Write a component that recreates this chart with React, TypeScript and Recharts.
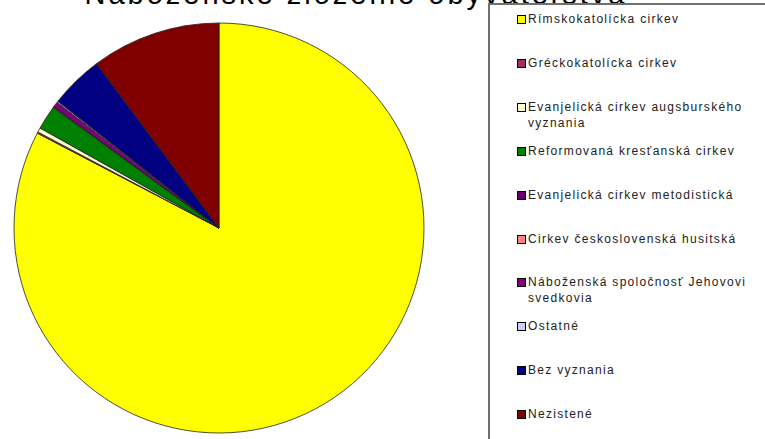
import { PieChart, Pie, Cell } from 'recharts';

const religions = [
  'Rímskokatolícka cirkev',
  'Gréckokatolícka cirkev',
  'Evanjelická cirkev augsburského vyznania',
  'Reformovaná kresťanská cirkev',
  'Evanjelická cirkev metodistická',
  'Cirkev československá husitská',
  'Náboženská spoločnosť Jehovovi svedkovia',
  'Ostatné',
  'Bez vyznania',
  'Nezistené',
];

const shares = [82.7, 0.1, 0.35, 1.9, 0.05, 0.05, 0.4, 0.1, 4.2, 10.2];

const colors = [
  '#FFFF00',
  '#993366',
  '#FFFFCC',
  '#008000',
  '#660066',
  '#FF8080',
  '#800080',
  '#CCCCFF',
  '#000080',
  '#800000',
];

const data = religions.map((name, i) => ({ name, value: shares[i] }));

const font = '"Liberation Sans", Arial, sans-serif';

export default function App() {
  return (
    <div style={{ position: 'absolute', left: 0, top: 0, width: 765, height: 439, overflow: 'hidden', background: '#fff' }}>
      <div
        style={{
          position: 'absolute',
          left: 0,
          width: 712,
          top: -22,
          textAlign: 'center',
          fontFamily: font,
          fontSize: 29,
          letterSpacing: 3,
          lineHeight: '32px',
          color: '#000',
          whiteSpace: 'nowrap',
        }}
      >
        Náboženské zloženie obyvateľstva
      </div>
      <div style={{ position: 'absolute', left: 0, top: 0 }}>
        <PieChart width={765} height={439} margin={{ top: 0, right: 0, bottom: 0, left: 0 }}>
          <Pie
            data={data}
            dataKey="value"
            nameKey="name"
            cx={219}
            cy={228}
            outerRadius={205}
            startAngle={90}
            endAngle={-270}
            stroke="#222"
            strokeWidth={0.8}
            isAnimationActive={false}
          >
            {data.map((d, i) => (
              <Cell key={d.name} fill={colors[i]} />
            ))}
          </Pie>
        </PieChart>
      </div>
      <div
        style={{
          position: 'absolute',
          left: 488,
          top: 3,
          width: 300,
          height: 460,
          border: '2px solid #707070',
          background: 'transparent',
        }}
      />
      {religions.map((name, i) => (
        <div
          key={name}
          style={{
            position: 'absolute',
            left: 517,
            top: 11 + i * 43.9,
            width: 245,
            fontFamily: font,
            fontSize: 12,
            letterSpacing: 1.3,
            lineHeight: '16px',
            color: '#222',
            display: 'flex',
            alignItems: 'flex-start',
          }}
        >
          <span
            style={{
              display: 'inline-block',
              width: 7,
              height: 7,
              marginTop: 4,
              marginRight: 2,
              background: colors[i],
              border: '1px solid #000',
              flexShrink: 0,
            }}
          />
          <span>{name}</span>
        </div>
      ))}
    </div>
  );
}
